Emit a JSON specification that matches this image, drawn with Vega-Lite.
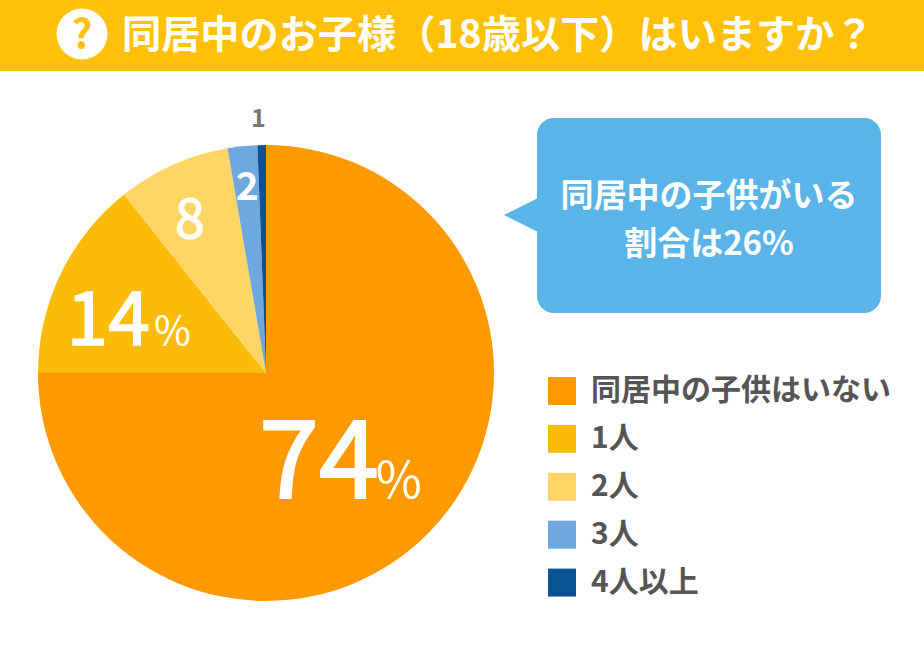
{
"$schema":"https://vega.github.io/schema/vega-lite/v6.json",
"width":924,"height":668,"padding":0,"autosize":{"type":"none"},"background":"white",
"config":{"view":{"stroke":null},"font":"Noto Sans CJK JP"},
"title":{"text":"同居中のお子様（18歳以下）はいますか？","anchor":"start","frame":"group","orient":"top","offset":-87,"dx":122,"baseline":"alphabetic","fontSize":39.2,"fontWeight":"bold","color":"#ffffff","font":"Noto Sans CJK JP"},
"datasets":{"slices":[
{"category":"同居中の子供はいない","share":75.0,"label":74,"rank":1},
{"category":"1人","share":14.3,"label":14,"rank":2},
{"category":"2人","share":8.0,"label":8,"rank":3},
{"category":"3人","share":2.1,"label":2,"rank":4},
{"category":"4人以上","share":0.6,"label":1,"rank":5}]},
"data":{"name":"slices"},
"transform":[{"stack":"share","as":["s0","s1"],"sort":[{"field":"rank","order":"ascending"}]},{"calculate":"(datum.s0+datum.s1)/2","as":"mid"}],
"layer":[
{"data":{"values":[{"note":"banner"}]},"transform":[],"mark":{"type":"rect","color":"#FFC107"},"encoding":{"x":{"value":0},"x2":{"value":924},"y":{"value":0},"y2":{"value":71}}},
{"data":{"values":[{"note":"icon"}]},"transform":[],"mark":{"type":"point","filled":true,"color":"#ffffff","opacity":1,"shape":"circle","size":2600},"encoding":{"x":{"value":82},"y":{"value":34}}},
{"data":{"values":[{"note":"?"}]},"transform":[],"mark":{"type":"text","color":"#FFC107","fontSize":40,"fontWeight":"bold","align":"center","baseline":"alphabetic"},"encoding":{"x":{"value":82},"y":{"value":48},"text":{"field":"note"}}},
{"mark":{"type":"arc","radius":228,"stroke":null},"encoding":{
"x":{"value":266},"y":{"value":373},
"theta":{"field":"share","type":"quantitative","stack":true,"scale":{"domain":[0,100]}},
"order":{"field":"rank"},
"color":{"field":"category","type":"nominal","scale":{"domain":["同居中の子供はいない","1人","2人","3人","4人以上"],"range":["#FF9900","#FBBC09","#FFD666","#6FA8DC","#0B5394"]},
"legend":{"title":null,"orient":"none","legendX":547,"legendY":376,"symbolType":"square","symbolSize":784,"symbolStrokeWidth":0,"symbolOpacity":1,"labelFontSize":30,"labelFontWeight":"bold","labelColor":"#555555","labelFont":"Noto Sans CJK JP","labelLimit":400,"labelOffset":14,"rowPadding":17.9,"padding":0}}}},
{"transform":[{"filter":"datum.rank==1"}],"mark":{"type":"text","color":"#ffffff","stroke":"#ffffff","strokeWidth":2,"fontSize":108,"fontWeight":"normal","align":"right","baseline":"alphabetic","dx":28,"dy":40},"encoding":{"x":{"value":266},"y":{"value":373},"theta":{"field":"mid","type":"quantitative","stack":null},"radius":{"value":120},"text":{"field":"label"}}},
{"data":{"values":[{"unit":"%","mid":37.5}]},"transform":[],"mark":{"type":"text","color":"#ffffff","fontSize":50,"align":"left","baseline":"alphabetic","dx":25,"dy":40},"encoding":{"x":{"value":266},"y":{"value":373},"theta":{"field":"mid","type":"quantitative","stack":null},"radius":{"value":120},"text":{"field":"unit"}}},
{"transform":[{"filter":"datum.rank==2"}],"mark":{"type":"text","color":"#ffffff","stroke":"#ffffff","strokeWidth":1.6,"fontSize":75,"fontWeight":"normal","align":"right","baseline":"alphabetic","dx":19,"dy":37},"encoding":{"x":{"value":266},"y":{"value":373},"theta":{"field":"mid","type":"quantitative","stack":null},"radius":{"value":150},"text":{"field":"label"}}},
{"data":{"values":[{"unit":"%","mid":82.15}]},"transform":[],"mark":{"type":"text","color":"#ffffff","fontSize":40,"align":"left","baseline":"alphabetic","dx":23,"dy":37},"encoding":{"x":{"value":266},"y":{"value":373},"theta":{"field":"mid","type":"quantitative","stack":null},"radius":{"value":150},"text":{"field":"unit"}}},
{"transform":[{"filter":"datum.rank==3"}],"mark":{"type":"text","color":"#ffffff","stroke":"#ffffff","strokeWidth":1.2,"fontSize":54,"fontWeight":"normal","align":"center","baseline":"alphabetic","dx":-11,"dy":11},"encoding":{"x":{"value":266},"y":{"value":373},"theta":{"field":"mid","type":"quantitative","stack":null},"radius":{"value":160},"text":{"field":"label"}}},
{"transform":[{"filter":"datum.rank==4"}],"mark":{"type":"text","color":"#ffffff","fontSize":39,"fontWeight":"bold","align":"center","baseline":"alphabetic","dx":0,"dy":6},"encoding":{"x":{"value":266},"y":{"value":373},"theta":{"field":"mid","type":"quantitative","stack":null},"radius":{"value":180},"text":{"field":"label"}}},
{"transform":[{"filter":"datum.rank==5"}],"mark":{"type":"text","color":"#777777","fontSize":25,"fontWeight":"bold","align":"center","baseline":"alphabetic","dx":-3,"dy":4},"encoding":{"x":{"value":266},"y":{"value":373},"theta":{"field":"mid","type":"quantitative","stack":null},"radius":{"value":250},"text":{"field":"label"}}},
{"data":{"values":[{"note":"callout"}]},"transform":[],"mark":{"type":"rect","color":"#5AB4E8","cornerRadius":17},"encoding":{"x":{"value":537},"x2":{"value":881},"y":{"value":118},"y2":{"value":313}}},
{"data":{"values":[{"note":"pointer"}]},"transform":[],"mark":{"type":"point","filled":true,"opacity":1,"color":"#5AB4E8","shape":"M -1 0 L 0 -0.5 L 0 0.5 Z","size":4624},"encoding":{"x":{"value":538},"y":{"value":215}}},
{"data":{"values":[{"note":"同居中の子供がいる\n割合は26%"}]},"transform":[],"mark":{"type":"text","color":"#ffffff","fontSize":33,"fontWeight":"bold","align":"center","baseline":"alphabetic","lineBreak":"\n","lineHeight":47.5},"encoding":{"x":{"value":709},"y":{"value":207},"text":{"field":"note"}}}
]
}
